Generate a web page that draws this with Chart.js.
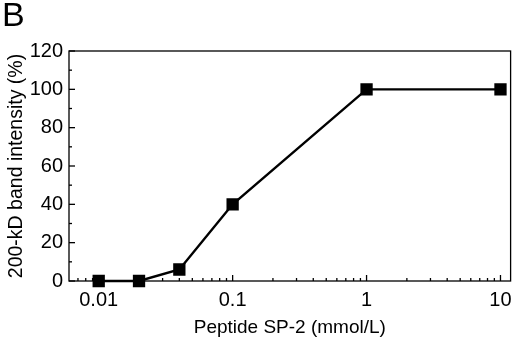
<!DOCTYPE html>
<html>
<head>
<meta charset="utf-8">
<script src="https://cdn.jsdelivr.net/npm/chart.js@4"></script>
<style>
  html, body { margin: 0; padding: 0; background: #fff; }
  #wrap { width: 520px; height: 339px; position: relative; }
</style>
</head>
<body>
<div id="wrap"><canvas id="chart"></canvas></div>
<script>
// Data
const concentrations = [0.01, 0.02, 0.04, 0.1, 1, 10];
const bandIntensity = [0, 0, 6, 40, 100, 100];
const yTickLabels = [0, 20, 40, 60, 80, 100, 120];
const xTickLabels = [0.01, 0.1, 1, 10];

const FONT = '"Liberation Sans", Arial, sans-serif';

const isDecade = v => Math.abs(Math.log10(v) - Math.round(Math.log10(v))) < 1e-6;

// frame, inward tick marks and the panel letter
const framePlugin = {
    id: 'frameTicks',
    afterDraw(chart) {
        const { ctx, chartArea: a, scales } = chart;
        ctx.save();
        ctx.strokeStyle = '#000';
        ctx.lineWidth = 1.3;
        ctx.strokeRect(a.left, a.top, a.right - a.left, a.bottom - a.top);

        // y ticks
        scales.y.ticks.forEach(t => {
            const y = scales.y.getPixelForValue(t.value);
            const len = yTickLabels.includes(t.value) ? 6 : 3;
            ctx.beginPath();
            ctx.moveTo(a.left, y);
            ctx.lineTo(a.left + len, y);
            ctx.stroke();
        });

        // x ticks (1..9 per decade)
        scales.x.ticks.forEach(t => {
            const v = t.value;
            const m = v / Math.pow(10, Math.floor(Math.log10(v) + 1e-9));
            if (Math.abs(m - Math.round(m)) > 1e-6) return;
            const x = scales.x.getPixelForValue(v);
            if (x < a.left + 1 || x > a.right - 1) return;
            const len = isDecade(v) ? 6 : 3;
            ctx.beginPath();
            ctx.moveTo(x, a.bottom);
            ctx.lineTo(x, a.bottom - len);
            ctx.stroke();
        });

        ctx.fillStyle = '#000';
        ctx.font = '34px ' + FONT;
        ctx.textBaseline = 'top';
        ctx.textAlign = 'left';
        ctx.fillText('B', 2, 0);
        ctx.restore();
    }
};

new Chart(document.getElementById('chart'), {
    type: 'line',
    data: {
        datasets: [{
            data: concentrations.map((c, i) => ({ x: c, y: bandIntensity[i] })),
            borderColor: '#000',
            backgroundColor: '#000',
            borderWidth: 2.4,
            pointStyle: 'rect',
            pointRadius: 7,
            pointHoverRadius: 7,
            tension: 0,
            clip: false
        }]
    },
    options: {
        responsive: true,
        maintainAspectRatio: false,
        animation: false,
        events: [],
        layout: { padding: { left: 0, top: 51, right: 3, bottom: 0 } },
        plugins: {
            legend: { display: false },
            tooltip: { enabled: false }
        },
        scales: {
            x: {
                type: 'logarithmic',
                min: 0.006,
                max: 11.9,
                grid: { display: false, drawTicks: false },
                border: { display: false },
                ticks: {
                    autoSkip: false,
                    maxRotation: 0,
                    padding: 7,
                    color: '#000',
                    font: { family: FONT, size: 20 },
                    callback: v => (isDecade(v) && xTickLabels.some(l => Math.abs(l - v) < 1e-9)) ? String(Number(v)) : ''
                },
                title: {
                    display: true,
                    text: 'Peptide SP-2 (mmol/L)',
                    color: '#000',
                    font: { family: FONT, size: 19 },
                    padding: { top: 4, bottom: 0 }
                },
                afterFit: s => { s.height = 58; }
            },
            y: {
                min: 0,
                max: 120,
                grid: { display: false, drawTicks: false },
                border: { display: false },
                ticks: {
                    stepSize: 10,
                    autoSkip: false,
                    padding: 6,
                    color: '#000',
                    font: { family: FONT, size: 20 },
                    callback: v => yTickLabels.includes(v) ? String(v) : ''
                },
                title: {
                    display: true,
                    text: '200-kD band intensity (%)',
                    color: '#000',
                    font: { family: FONT, size: 19.5 },
                    padding: { top: 5, bottom: 0 }
                },
                afterFit: s => { s.width = 69; }
            }
        }
    },
    plugins: [framePlugin]
});
</script>
</body>
</html>
